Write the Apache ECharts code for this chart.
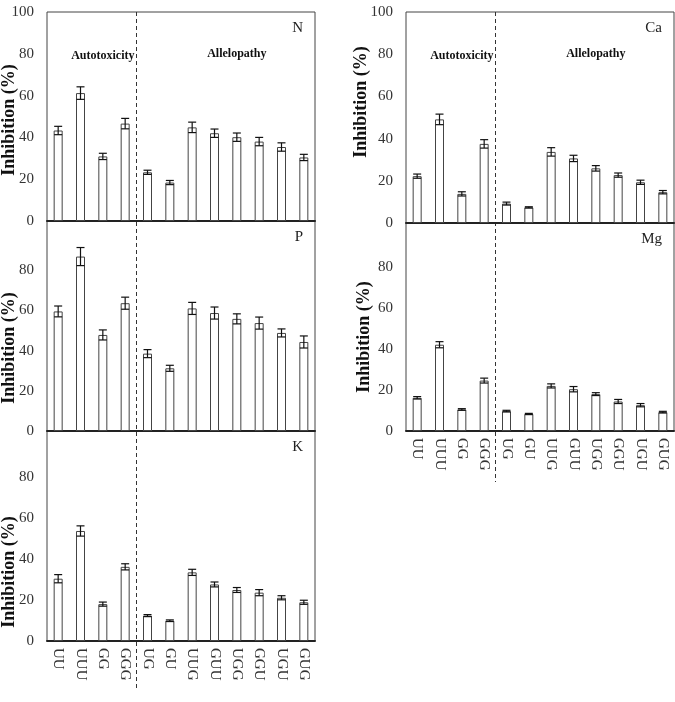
<!DOCTYPE html>
<html>
<head>
<meta charset="utf-8">
<script src="https://cdn.jsdelivr.net/npm/echarts@6/dist/echarts.min.js"></script>
<style>
  html, body { margin: 0; padding: 0; background: #fff; }
  #chart { width: 675px; height: 702px; }
</style>
</head>
<body>
<div id="chart"></div>
<script>
// treatments on the x axis
const categories = ['UU', 'UUU', 'GG', 'GGG', 'UG', 'GU', 'UUG', 'GUU', 'UGG', 'GGU', 'UGU', 'GUG']
const yTicks = [0, 20, 40, 60, 80, 100]

// inhibition (%) and error per nutrient
const nMean = [43.3, 61.2, 30.9, 46.6, 23.3, 18.4, 44.8, 42.0, 40.1, 38.0, 35.4, 30.4]
const nErr = [2, 3, 1.5, 2.5, 1, 1, 2.5, 2, 2, 2, 2, 1.5]
const pMean = [59.5, 86.8, 47.8, 63.6, 38.5, 31.2, 61.0, 58.7, 55.8, 53.7, 48.8, 44.3]
const pErr = [2.7, 4.5, 2.5, 3, 2, 1.5, 3, 3, 2.5, 3, 2, 3]
const kMean = [30.4, 53.7, 18.0, 36.2, 12.4, 9.9, 33.5, 27.6, 24.9, 23.6, 21.1, 18.9]
const kErr = [2, 2.5, 1, 1.5, 0.5, 0.4, 1.5, 1.2, 1.2, 1.5, 1, 1]
const caMean = [22.2, 49.1, 13.8, 37.5, 9.2, 7.4, 33.7, 30.6, 25.9, 22.7, 19.3, 14.6]
const caErr = [1, 2.5, 1, 2, 0.7, 0.3, 2, 1.5, 1.3, 1, 1, 0.8]
const mgMean = [16.2, 42.1, 10.5, 24.6, 9.7, 8.3, 22.0, 20.4, 18.0, 14.4, 12.6, 9.2]
const mgErr = [0.6, 1.5, 0.4, 1.2, 0.4, 0.3, 1, 1.3, 0.7, 1, 0.8, 0.4]

const serif = '"Liberation Serif", "Times New Roman", serif'

// panel layout: grid box + where the axis name sits
const panels = [
  { key: 'N', mean: nMean, err: nErr, left: 47, top: 12, height: 209, max: 100, showX: false, nameX: 9, nameY: 120, group: true },
  { key: 'P', mean: pMean, err: pErr, left: 47, top: 221, height: 210, max: 104.5, showX: false, nameX: 9, nameY: 348 },
  { key: 'K', mean: kMean, err: kErr, left: 47, top: 431, height: 210, max: 102.5, showX: true, nameX: 9, nameY: 572 },
  { key: 'Ca', mean: caMean, err: caErr, left: 406, top: 12, height: 211, max: 100, showX: false, nameX: 361, nameY: 102, group: true },
  { key: 'Mg', mean: mgMean, err: mgErr, left: 406, top: 223, height: 208, max: 101.5, showX: true, nameX: 364, nameY: 337 }
]

function renderErr(params, api) {
  const x = api.value(0)
  const m = api.value(1)
  const e = api.value(2)
  const hi = api.coord([x, m + e])
  const lo = api.coord([x, m - e])
  const hw = 4
  const st = { stroke: '#111', lineWidth: 1.2 }
  return {
    type: 'group',
    children: [
      { type: 'line', shape: { x1: hi[0], y1: hi[1], x2: lo[0], y2: lo[1] }, style: st },
      { type: 'line', shape: { x1: hi[0] - hw, y1: hi[1], x2: hi[0] + hw, y2: hi[1] }, style: st },
      { type: 'line', shape: { x1: lo[0] - hw, y1: lo[1], x2: lo[0] + hw, y2: lo[1] }, style: st }
    ]
  }
}

const grid = []
const xAxis = []
const yAxis = []
const series = []

panels.forEach((p, i) => {
  grid.push({
    left: p.left, top: p.top, width: 268, height: p.height,
    show: true, borderColor: '#444', borderWidth: 1, backgroundColor: 'transparent'
  })
  xAxis.push({
    type: 'category', gridIndex: i, data: categories,
    axisLine: { show: true, lineStyle: { color: '#222', width: 2 } },
    axisTick: { show: false },
    axisLabel: {
      show: p.showX, rotate: -90, margin: 7, interval: 0,
      fontFamily: serif, fontSize: 15, color: '#333'
    }
  })
  yAxis.push({
    type: 'value', gridIndex: i, min: 0, max: p.max, interval: 20,
    axisLine: { show: false }, axisTick: { show: false }, splitLine: { show: false },
    axisLabel: {
      margin: 13, fontFamily: serif, fontSize: 15, color: '#333',
      formatter: v => (v > 100 || (v === 100 && p.max !== 100)) ? '' : v
    }
  })
  series.push({
    type: 'bar', xAxisIndex: i, yAxisIndex: i, data: p.mean, barWidth: 9,
    itemStyle: { color: '#fff', borderColor: '#444', borderWidth: 1 },
    silent: true
  })
  series.push({
    type: 'custom', xAxisIndex: i, yAxisIndex: i, renderItem: renderErr,
    data: categories.map((c, j) => [j, p.mean[j], p.err[j]]), z: 5, silent: true
  })
})

const chart = echarts.init(document.getElementById('chart'))
chart.setOption({ animation: false, backgroundColor: '#fff', grid, xAxis, yAxis, series })

// text and dashed separators placed from the axes
const graphic = []
panels.forEach((p, i) => {
  graphic.push({
    type: 'text', x: p.nameX, y: p.nameY, rotation: Math.PI / 2,
    style: { text: 'Inhibition (%)', font: 'bold 18px ' + serif, fill: '#111', align: 'center', verticalAlign: 'middle' }
  })
  graphic.push({
    type: 'text', x: p.left + 268 - 12, y: p.top + 16,
    style: { text: p.key, font: '15px ' + serif, fill: '#222', align: 'right', verticalAlign: 'middle' }
  })
  if (p.group) {
    const a = chart.convertToPixel({ xAxisIndex: i, yAxisIndex: i }, [1.5, 80])
    const b = chart.convertToPixel({ xAxisIndex: i, yAxisIndex: i }, [7.5, 80])
    graphic.push({
      type: 'text', x: a[0], y: a[1] + 2,
      style: { text: 'Autotoxicity', font: 'bold 12px ' + serif, fill: '#111', align: 'center', verticalAlign: 'middle' }
    })
    graphic.push({
      type: 'text', x: b[0], y: b[1],
      style: { text: 'Allelopathy', font: 'bold 12px ' + serif, fill: '#111', align: 'center', verticalAlign: 'middle' }
    })
  }
})

function sepX(i) {
  const c3 = chart.convertToPixel({ xAxisIndex: i }, 3)
  const c4 = chart.convertToPixel({ xAxisIndex: i }, 4)
  return Math.round((c3 + c4) / 2) + 0.5
}
const dash = { stroke: '#333', lineWidth: 1, lineDash: [4, 3] }
graphic.push({ type: 'line', shape: { x1: sepX(0), y1: 12, x2: sepX(0), y2: 688 }, style: dash })
graphic.push({ type: 'line', shape: { x1: sepX(3), y1: 12, x2: sepX(3), y2: 482 }, style: dash })

chart.setOption({ graphic })
</script>
</body>
</html>
